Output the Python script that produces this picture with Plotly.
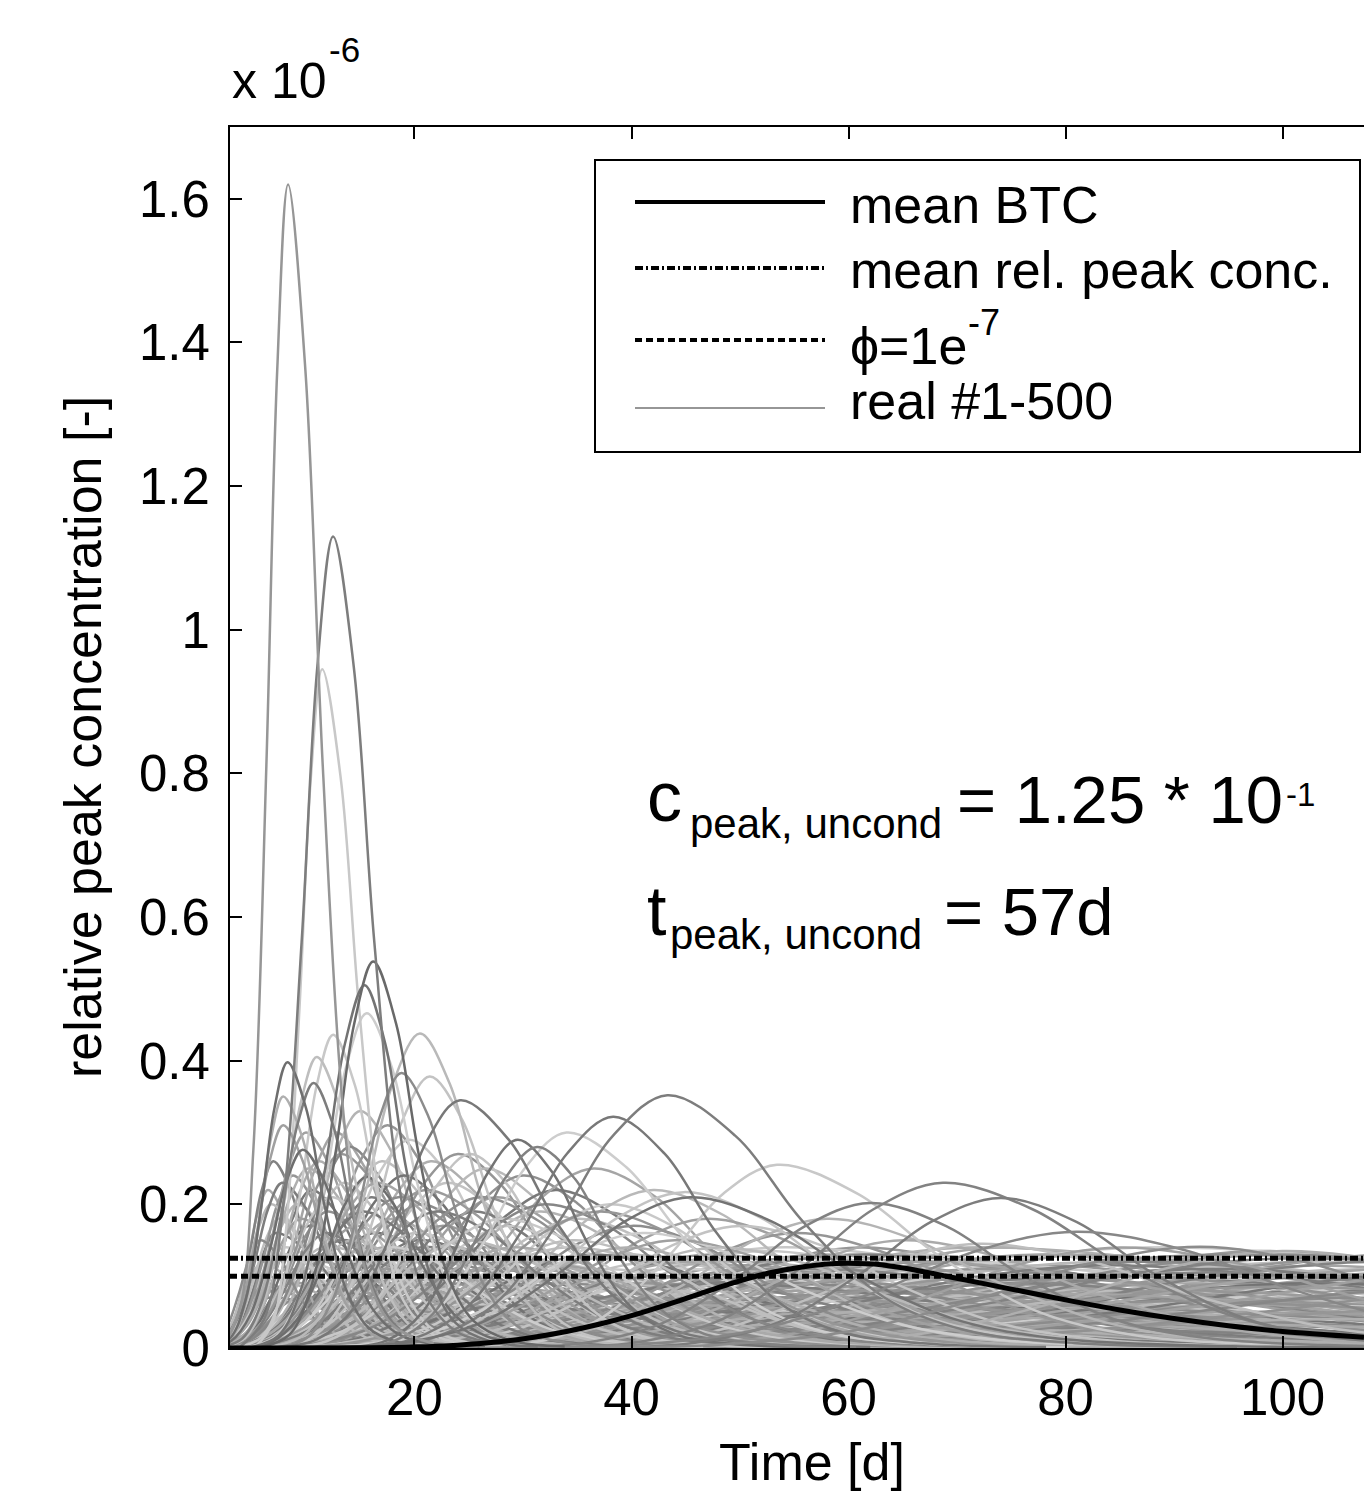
import plotly.graph_objects as go

# ---------------- axes ----------------
x_range = [3, 107.5]
y_range = [0, 1.7]
x_tick_vals = [20, 40, 60, 80, 100]
x_tick_text = ["20", "40", "60", "80", "100"]
y_tick_vals = [0, 0.2, 0.4, 0.6, 0.8, 1.0, 1.2, 1.4, 1.6]
y_tick_text = ["0", "0.2", "0.4", "0.6", "0.8", "1", "1.2", "1.4", "1.6"]

# ---------------- mean breakthrough curve (x 1e-6) ----------------
mean_btc_t = [3, 15, 20, 24, 28, 31, 34, 37, 40, 43, 46, 49, 52, 55, 58, 60, 63, 66, 69, 72,
              76, 80, 85, 90, 95, 100, 107.5]
mean_btc_c = [0, 0.0005, 0.0015, 0.004, 0.009, 0.015, 0.023, 0.033, 0.045, 0.059, 0.074, 0.089,
              0.102, 0.111, 0.117, 0.118, 0.116, 0.109, 0.100, 0.091, 0.079, 0.067, 0.053, 0.041,
              0.031, 0.023, 0.015]

mean_rel_peak_conc = 0.125
phi_threshold = 0.1

# ---------------- realizations: peak time, peak conc, rise/fall half-widths, gray ----------------
# low, broad curves forming the dense band near the bottom
low_tp = [6.0, 7.0, 8.0, 9.0, 10.0, 11.0, 12.0, 13.0, 14.0, 15.0, 16.0, 17.0, 18.0, 19.0, 20.0,
          21.0, 22.0, 23.0, 24.0, 25.0, 26.0, 27.0, 28.0, 30.0, 31.0, 33.0, 34.0, 36.0, 37.0, 39.0,
          40.0, 42.0, 44.0, 45.0, 47.0, 49.0, 50.0, 52.0, 54.0, 55.0, 57.0, 59.0, 61.0, 62.0, 64.0,
          66.0, 68.0, 70.0, 72.0, 74.0, 76.0, 78.0, 80.0, 82.0, 84.0, 86.0, 88.0, 90.0, 92.0, 95.0,
          98.0, 100.0, 103.0, 106.0, 110.0, 115.0, 120.0,
          10.0, 20.0, 35.0, 50.0, 65.0, 80.0, 95.0, 110.0, 30.0, 60.0]
low_cp = [0.12, 0.08, 0.14, 0.10, 0.06, 0.13, 0.09, 0.15, 0.07, 0.12, 0.10, 0.14, 0.08, 0.11, 0.13,
          0.06, 0.10, 0.14, 0.09, 0.12, 0.07, 0.11, 0.13, 0.08, 0.12, 0.10, 0.14, 0.07, 0.11, 0.13,
          0.09, 0.12, 0.06, 0.10, 0.13, 0.08, 0.115, 0.135, 0.07, 0.10, 0.125, 0.085, 0.14, 0.06, 0.11,
          0.13, 0.08, 0.12, 0.10, 0.14, 0.07, 0.115, 0.09, 0.13, 0.06, 0.105, 0.125, 0.08, 0.12, 0.10,
          0.135, 0.07, 0.115, 0.09, 0.13, 0.11, 0.12,
          0.04, 0.035, 0.045, 0.03, 0.05, 0.04, 0.045, 0.05, 0.025, 0.02]
low_wl = [2.0, 2.5, 3.0, 3.0, 3.5, 4.0, 4.0, 4.5, 5.0, 5.0, 5.5, 5.5, 6.0, 6.0, 6.5,
          7.0, 7.0, 7.5, 8.0, 8.0, 8.5, 9.0, 9.0, 10.0, 10.0, 10.5, 10.5, 11.0, 11.5, 12.0,
          12.0, 12.5, 13.0, 13.0, 13.5, 14.0, 14.0, 14.5, 15.0, 15.0, 15.5, 16.0, 16.0, 16.5, 17.0,
          17.0, 17.5, 18.0, 18.0, 18.5, 19.0, 19.0, 19.5, 20.0, 20.0, 20.5, 21.0, 21.0, 21.5, 22.0,
          22.5, 23.0, 23.5, 24.0, 25.0, 26.0, 27.0,
          3.0, 6.0, 10.0, 14.0, 17.0, 20.0, 22.0, 25.0, 9.0, 15.0]
low_wr = [4.0, 6.0, 6.0, 8.0, 10.0, 8.0, 10.0, 8.0, 12.0, 10.0, 12.0, 10.0, 14.0, 12.0, 12.0,
          16.0, 14.0, 12.0, 16.0, 14.0, 18.0, 16.0, 14.0, 18.0, 16.0, 18.0, 16.0, 20.0, 18.0, 18.0,
          20.0, 18.0, 22.0, 20.0, 18.0, 22.0, 20.0, 20.0, 24.0, 22.0, 20.0, 24.0, 20.0, 26.0, 22.0,
          22.0, 26.0, 24.0, 24.0, 22.0, 28.0, 24.0, 26.0, 24.0, 28.0, 26.0, 26.0, 28.0, 26.0, 28.0,
          26.0, 30.0, 28.0, 30.0, 30.0, 30.0, 30.0,
          20.0, 30.0, 30.0, 35.0, 35.0, 35.0, 35.0, 35.0, 40.0, 40.0]
low_gray = [180, 150, 200, 130, 190, 165, 205, 145, 185, 120, 200, 170, 155, 195, 135,
            180, 205, 160, 190, 145, 200, 170, 185, 150, 205, 165, 190, 140, 200, 175,
            155, 195, 170, 205, 145, 185, 160, 200, 135, 190, 170, 205, 150, 185, 160,
            200, 175, 140, 195, 165, 205, 150, 185, 170, 195, 145, 200, 160, 190, 175,
            155, 205, 165, 185, 150, 195, 170,
            175, 150, 200, 165, 190, 140, 180, 160, 205, 185]

# second layer of low curves (long tails filling the bottom band)
low2_tp = [5.5, 6.5, 7.5, 8.5, 9.5, 10.5, 11.5, 12.5, 13.5, 14.5,
           15.5, 16.5, 17.5, 18.5, 19.5, 20.5, 21.5, 22.5, 23.5, 24.5,
           25.5, 26.5, 27.5, 29.0, 32.0, 35.0, 38.0, 41.0, 43.0, 46.0,
           48.0, 51.0, 53.0, 56.0, 58.0, 60.0, 63.0, 65.0, 67.0, 69.0,
           71.0, 73.0, 75.0, 77.0, 79.0, 81.0, 83.0, 85.0, 87.0, 89.0,
           91.0, 93.0, 96.0, 99.0, 102.0, 105.0, 108.0, 112.0, 118.0, 125.0]
low2_cp = [0.10, 0.07, 0.13, 0.09, 0.11, 0.06, 0.14, 0.08, 0.12, 0.10,
           0.05, 0.13, 0.09, 0.11, 0.07, 0.14, 0.10, 0.12, 0.06, 0.09,
           0.13, 0.11, 0.08, 0.12, 0.10, 0.07, 0.13, 0.09, 0.11, 0.06,
           0.12, 0.10, 0.14, 0.08, 0.11, 0.13, 0.07, 0.10, 0.12, 0.09,
           0.14, 0.06, 0.11, 0.13, 0.08, 0.10, 0.12, 0.07, 0.14, 0.09,
           0.11, 0.13, 0.06, 0.10, 0.12, 0.08, 0.11, 0.13, 0.09, 0.12]
low2_wl = [1.7, 2.0, 2.3, 2.6, 2.9, 3.2, 3.5, 3.8, 4.1, 4.4,
           4.7, 5.0, 5.3, 5.6, 5.9, 6.2, 6.5, 6.8, 7.1, 7.4,
           9.2, 9.5, 9.8, 10.2, 11.1, 12.0, 12.9, 13.8, 14.4, 15.3,
           15.9, 16.8, 17.4, 18.3, 18.9, 19.5, 20.4, 21.0, 21.6, 22.2,
           22.8, 23.4, 24.0, 24.6, 25.2, 25.8, 26.4, 27.0, 27.6, 28.2,
           28.8, 29.4, 30.3, 31.2, 32.1, 33.0, 33.9, 35.1, 36.9, 39.0]
low2_wr = [8.8, 9.3, 9.8, 10.3, 10.8, 11.3, 11.8, 12.3, 12.8, 13.3,
           13.8, 14.3, 14.8, 15.3, 15.8, 16.3, 16.8, 17.3, 17.8, 18.3,
           18.8, 19.3, 19.8, 20.5, 22.0, 23.5, 25.0, 26.5, 27.5, 29.0,
           30.0, 31.5, 32.5, 34.0, 35.0, 36.0, 37.5, 38.5, 39.5, 40.5,
           41.5, 42.5, 43.5, 44.5, 45.5, 46.5, 47.5, 48.5, 49.5, 50.5,
           51.5, 52.5, 54.0, 55.5, 57.0, 58.5, 60.0, 62.0, 65.0, 68.5]
low2_gray = [175, 140, 200, 160, 190, 125, 185, 150, 205, 165,
             175, 140, 200, 160, 190, 125, 185, 150, 205, 165,
             175, 140, 200, 160, 190, 125, 185, 150, 205, 165,
             175, 140, 200, 160, 190, 125, 185, 150, 205, 165,
             175, 140, 200, 160, 190, 125, 185, 150, 205, 165,
             175, 140, 200, 160, 190, 125, 185, 150, 205, 165]

# third layer of low curves (darker streaks in the bottom band)
low3_tp = [6.2, 7.2, 8.2, 9.2, 10.2, 11.2, 12.2, 13.2, 14.2, 15.2, 16.2, 17.2, 18.2, 19.2, 20.2,
           22.2, 24.2, 26.2, 28.2, 30.2, 33.0, 36.0, 39.0, 42.0, 45.0, 48.0, 51.0, 54.0, 57.0, 60.0,
           63.0, 66.0, 69.0, 72.0, 75.0, 78.0, 81.0, 84.0, 87.0, 90.0, 93.0, 96.0, 99.0, 102.0, 105.0,
           109.0, 114.0, 120.0]
low3_cp = [0.09, 0.16, 0.11, 0.07, 0.17, 0.12, 0.08, 0.15, 0.10, 0.06, 0.16, 0.11, 0.13, 0.07, 0.15,
           0.09, 0.12, 0.14, 0.06, 0.11, 0.09, 0.13, 0.07, 0.10, 0.12, 0.05, 0.11, 0.09, 0.13, 0.07,
           0.10, 0.12, 0.06, 0.11, 0.09, 0.13, 0.05, 0.10, 0.12, 0.08, 0.11, 0.06, 0.13, 0.09, 0.10,
           0.12, 0.08, 0.11]
low3_wl = [1.8, 2.1, 2.4, 2.7, 3.0, 3.3, 3.6, 3.9, 4.2, 4.5, 4.8, 5.1, 5.4, 5.7, 6.0,
           6.6, 7.2, 7.8, 8.4, 9.0, 9.8, 10.6, 11.4, 12.2, 13.0, 13.8, 14.6, 15.4, 16.2, 17.0,
           17.8, 18.6, 19.4, 20.2, 21.0, 21.8, 22.6, 23.4, 24.2, 25.0, 25.8, 26.6, 27.4, 28.2, 29.0,
           30.0, 31.5, 33.0]
low3_wr = [5.0, 6.0, 6.5, 8.0, 6.5, 7.5, 9.0, 8.0, 9.5, 12.0, 9.0, 10.5, 10.0, 13.0, 11.0,
           13.5, 13.0, 13.0, 17.0, 15.0, 17.0, 16.0, 20.0, 19.0, 19.0, 24.0, 22.0, 24.0, 23.0, 27.0,
           26.0, 26.0, 30.0, 28.0, 30.0, 29.0, 34.0, 32.0, 32.0, 35.0, 34.0, 38.0, 35.0, 37.0, 38.0,
           38.0, 40.0, 40.0]
low3_gray = [150, 120, 165, 140, 110, 155, 135, 125, 160, 145, 115, 150, 130, 165, 120,
             145, 135, 155, 125, 160, 140, 115, 150, 130, 165, 120, 145, 135, 155, 125,
             160, 140, 115, 150, 130, 165, 120, 145, 135, 155, 125, 160, 140, 115, 150,
             130, 165, 120]

# fourth layer: late, very broad low curves
low4_tp = [40, 43, 47, 50, 53, 56, 59, 62, 65, 68, 71, 74, 77, 80, 83, 86, 89, 92, 95, 98,
           101, 104, 107, 111, 116, 122, 128, 135]
low4_cp = [0.03, 0.06, 0.09, 0.04, 0.07, 0.11, 0.05, 0.08, 0.12, 0.03, 0.06, 0.10, 0.045, 0.075,
           0.115, 0.035, 0.065, 0.105, 0.05, 0.085, 0.125, 0.04, 0.07, 0.11, 0.055, 0.09, 0.12, 0.10]
low4_wl = [14, 15, 16, 16, 17, 18, 18, 19, 20, 20, 21, 22, 22, 23, 24, 24, 25, 26, 26, 27,
           28, 28, 29, 30, 31, 33, 35, 37]
low4_wr = [30, 32, 30, 34, 32, 30, 36, 34, 32, 38, 36, 34, 40, 38, 36, 42, 40, 38, 44, 42,
           40, 44, 42, 40, 44, 42, 40, 40]
low4_gray = [140, 165, 125, 175, 150, 135, 170, 145, 160, 130, 175, 150, 140, 165, 125, 170,
             145, 135, 160, 150, 130, 175, 140, 165, 150, 135, 160, 145]

# mid-height early arches (dense region 0.15 - 0.33)
mid_tp = [6.5, 7.0, 7.5, 8.8, 9.2, 10.0, 10.5, 11.2, 12.0, 12.8, 13.5, 14.0, 14.5, 15.0, 16.0,
          17.0, 17.5, 18.0, 19.0, 19.5, 20.5, 21.5, 22.5, 23.0, 24.0, 25.5, 26.5, 27.5, 28.5, 30.0,
          31.5, 33.0, 35.0, 36.5, 38.0, 40.0, 42.0, 47.0, 50.0, 55.0, 58.0, 65.0, 72.0, 85.0, 100.0]
mid_cp = [0.22, 0.26, 0.18, 0.24, 0.20, 0.30, 0.22, 0.26, 0.19, 0.30, 0.23, 0.28, 0.17, 0.33, 0.21,
          0.26, 0.31, 0.18, 0.24, 0.29, 0.20, 0.26, 0.17, 0.23, 0.27, 0.19, 0.25, 0.21, 0.17, 0.24,
          0.19, 0.22, 0.18, 0.25, 0.20, 0.17, 0.22, 0.18, 0.17, 0.16, 0.18, 0.15, 0.145, 0.14, 0.135]
mid_wl = [2.0, 2.2, 2.4, 2.8, 3.0, 3.2, 3.2, 3.5, 3.8, 3.8, 4.0, 4.2, 4.5, 4.2, 4.8,
          5.0, 5.0, 5.5, 5.5, 5.5, 6.0, 6.0, 6.5, 6.5, 6.5, 7.0, 7.0, 7.5, 8.0, 8.0,
          8.5, 9.0, 9.5, 9.5, 10.0, 10.5, 11.0, 12.0, 12.5, 13.0, 13.0, 14.0, 15.0, 18.0, 20.0]
mid_wr = [3.0, 3.2, 3.8, 4.0, 4.5, 4.5, 5.0, 5.0, 5.5, 5.2, 5.5, 5.8, 6.5, 5.5, 6.5,
          6.5, 6.0, 7.5, 7.0, 7.0, 8.0, 8.0, 8.5, 8.5, 8.0, 9.0, 9.0, 9.5, 10.0, 10.0,
          11.0, 11.0, 12.0, 11.5, 12.0, 13.0, 13.0, 14.0, 15.0, 16.0, 16.0, 18.0, 20.0, 22.0, 25.0]
mid_gray = [170, 130, 190, 150, 185, 160, 120, 175, 145, 165, 190, 135, 160, 180, 125,
            190, 150, 170, 115, 200, 140, 175, 155, 195, 150, 125, 185, 160, 200, 145,
            180, 120, 190, 165, 200, 140, 185, 160, 195, 150, 180, 170, 190, 160, 175]

# second layer of early arches
mid2_tp = [5.8, 6.8, 7.8, 8.2, 9.5, 10.2, 11.8, 12.2, 13.2, 14.2, 15.2, 16.5, 17.8, 18.5,
           20.0, 21.0, 22.0, 24.5, 26.0, 28.0, 29.0, 32.0, 34.5, 37.0, 39.5, 41.0, 44.0, 48.0]
mid2_cp = [0.15, 0.20, 0.23, 0.13, 0.18, 0.25, 0.16, 0.21, 0.27, 0.15, 0.19, 0.23, 0.14, 0.21,
           0.16, 0.22, 0.19, 0.15, 0.21, 0.18, 0.14, 0.20, 0.15, 0.19, 0.14, 0.16, 0.15, 0.14]
mid2_wl = [2.0, 2.3, 2.6, 2.8, 3.1, 3.3, 3.8, 3.9, 4.2, 4.5, 4.8, 5.2, 5.6, 5.8,
           6.2, 6.5, 6.8, 7.5, 8.0, 8.5, 8.8, 9.5, 10.0, 10.5, 11.0, 11.5, 12.0, 13.0]
mid2_wr = [3.5, 4.0, 4.5, 5.0, 5.5, 5.5, 6.0, 6.5, 6.5, 7.5, 7.5, 8.0, 9.0, 8.5,
           10.0, 9.5, 10.0, 11.0, 11.0, 12.0, 13.0, 12.0, 13.0, 13.0, 14.0, 15.0, 15.0, 16.0]
mid2_gray = [140, 185, 125, 200, 160, 175, 130, 195, 150, 180, 120, 165, 205, 140,
             190, 155, 125, 185, 145, 200, 170, 135, 190, 150, 175, 205, 160, 185]

# clearly distinguishable individual realizations
top_tp = [15.6, 34.0, 25.1, 44.8, 53.4, 21.4, 20.5, 12.5, 11.0, 15.6, 11.5, 7.9, 7.9,
          9.7, 10.7, 8.3, 18.8, 24.2, 29.5, 31.3, 38.3, 43.3, 45.4, 62.0, 68.7, 74.0, 81.0, 92.4,
          15.4, 16.2, 12.5, 8.35]
top_cp = [0.238, 0.30, 0.27, 0.217, 0.255, 0.378, 0.438, 0.436, 0.405, 0.466, 0.945, 0.35, 0.31,
          0.276, 0.369, 0.398, 0.383, 0.345, 0.29, 0.28, 0.322, 0.352, 0.21, 0.202, 0.23, 0.209, 0.162, 0.141,
          0.505, 0.538, 1.13, 1.62]
top_wl = [4.0, 7.5, 6.0, 12.0, 10.0, 5.0, 5.0, 3.0, 3.0, 3.8, 2.1, 2.2, 2.5,
          3.0, 3.0, 2.4, 4.0, 6.0, 5.5, 6.0, 8.5, 10.0, 12.0, 12.0, 12.8, 12.8, 18.0, 20.0,
          3.6, 3.5, 2.9, 2.0]
top_wr = [5.0, 11.0, 7.0, 14.0, 15.0, 6.0, 5.5, 4.0, 4.0, 4.6, 3.4, 3.5, 3.6,
          4.0, 3.6, 3.4, 5.0, 9.0, 6.5, 7.0, 9.5, 12.5, 15.0, 14.0, 16.5, 14.0, 20.0, 20.0,
          3.8, 4.2, 3.8, 3.2]
top_gray = [110, 205, 195, 195, 200, 195, 185, 200, 190, 205, 200, 175, 160,
            110, 125, 110, 140, 120, 115, 130, 120, 125, 115, 130, 130, 125, 135, 140,
            115, 105, 125, 150]

real_tp = low_tp + low2_tp + low3_tp + low4_tp + mid_tp + mid2_tp + top_tp
real_cp = low_cp + low2_cp + low3_cp + low4_cp + mid_cp + mid2_cp + top_cp
real_wl = low_wl + low2_wl + low3_wl + low4_wl + mid_wl + mid2_wl + top_wl
real_wr = low_wr + low2_wr + low3_wr + low4_wr + mid_wr + mid2_wr + top_wr
real_gray = low_gray + low2_gray + low3_gray + low4_gray + mid_gray + mid2_gray + top_gray

# bell-shaped breakthrough template (offsets in half-widths, fraction of peak)
LEFT_U = [-3.0, -2.2, -1.6, -1.0, -0.5]
LEFT_F = [0.0, 0.035, 0.17, 0.5, 0.84]
RIGHT_U = [0.5, 1.0, 1.6, 2.2, 3.0, 4.2]
RIGHT_F = [0.84, 0.5, 0.2, 0.07, 0.02, 0.004]

# ---------------- geometry (page body margin removed by post_script) ----------------
W, H = 1364, 1495
PL, PT, PR, PB = 230, 127, 1364, 1348   # plot area in screen pixels


def px(x):
    return (x - PL) / (PR - PL)


def py(y):
    return (PB - y) / (PB - PT)


FONT = "Liberation Sans, Arial, Helvetica, sans-serif"

fig = go.Figure()

for tp, cp, wl, wr, g in zip(real_tp, real_cp, real_wl, real_wr, real_gray):
    xs = [tp + u * wl for u in LEFT_U] + [tp] + [tp + u * wr for u in RIGHT_U]
    ys = [cp * f for f in LEFT_F] + [cp] + [cp * f for f in RIGHT_F]
    fig.add_trace(go.Scatter(
        x=xs, y=ys, mode="lines",
        line=dict(color=f"rgb({g},{g},{g})", width=2.5, shape="spline", smoothing=1.0),
        showlegend=False, hoverinfo="skip"))

fig.add_trace(go.Scatter(
    x=mean_btc_t, y=mean_btc_c, mode="lines",
    line=dict(color="black", width=5, shape="spline", smoothing=0.8),
    showlegend=False, name="mean BTC"))

DASH_MEAN = "8px,3px,2px,3px"
DASH_PHI = "7px,4px"

fig.add_trace(go.Scatter(
    x=x_range, y=[mean_rel_peak_conc, mean_rel_peak_conc], mode="lines",
    line=dict(color="black", width=5, dash=DASH_MEAN),
    showlegend=False, name="mean rel. peak conc."))
fig.add_trace(go.Scatter(
    x=x_range, y=[phi_threshold, phi_threshold], mode="lines",
    line=dict(color="black", width=5, dash=DASH_PHI),
    showlegend=False, name="phi=1e-7"))

# ---------------- manual legend ----------------
shapes = [dict(type="rect", xref="paper", yref="paper",
               x0=px(595), x1=px(1360), y0=py(452), y1=py(160),
               line=dict(color="black", width=2), fillcolor="white", layer="above")]
legend_rows = [
    (202, dict(color="black", width=4)),
    (268, dict(color="black", width=4, dash=DASH_MEAN)),
    (340, dict(color="black", width=4, dash=DASH_PHI)),
    (408, dict(color="rgb(150,150,150)", width=2)),
]
for yy, ln in legend_rows:
    shapes.append(dict(type="line", xref="paper", yref="paper",
                       x0=px(635), x1=px(825), y0=py(yy), y1=py(yy), line=ln, layer="above"))

annotations = []


def add_text(text, x, y, size, xanchor="left", angle=0):
    annotations.append(dict(text=text, xref="paper", yref="paper", x=px(x), y=py(y),
                            xanchor=xanchor, yanchor="middle", showarrow=False,
                            textangle=angle, font=dict(family=FONT, size=size, color="black")))


add_text("mean BTC", 848, 205, 52)
add_text("mean rel. peak conc.", 848, 270, 52)
add_text("\u03d5=1e", 848, 346, 52)
add_text("-7", 966, 322, 36)
add_text("real #1-500", 848, 401, 52)

# exponent label
add_text("x 10", 230, 81, 50)
add_text("-6", 327, 50, 35)

# axis titles
add_text("Time [d]", 812, 1462, 52, xanchor="center")
add_text("relative peak concentration [-]", 83, 737, 52, xanchor="center", angle=-90)

# text box
add_text("c", 645, 797, 70)
add_text("peak, uncond", 688, 823, 42)
add_text("= 1.25 * 10", 955, 799, 67)
add_text("-1", 1284, 794, 33)
add_text("t", 645, 911, 70)
add_text("peak, uncond", 668, 935, 42)
add_text("= 57d", 942, 912, 67)

axis_common = dict(showgrid=False, zeroline=False, showline=True, linecolor="black", linewidth=2,
                   ticks="inside", ticklen=12, tickwidth=2, tickcolor="black",
                   tickfont=dict(family=FONT, size=51, color="black"))

fig.update_layout(
    width=W, height=H,
    margin=dict(l=PL, r=0, t=PT, b=H - PB, pad=0),
    paper_bgcolor="white", plot_bgcolor="white",
    showlegend=False,
    xaxis=dict(range=x_range, tickvals=x_tick_vals, ticktext=x_tick_text, mirror="ticks",
               ticklabelstandoff=4, **axis_common),
    yaxis=dict(range=y_range, tickvals=y_tick_vals, ticktext=y_tick_text, mirror=False,
               ticklabelstandoff=8, **axis_common),
    shapes=shapes,
    annotations=annotations,
)

fig.write_html("out.html", config={"displayModeBar": False},
               post_script="document.body.style.margin='0';document.body.style.overflow='hidden';")
